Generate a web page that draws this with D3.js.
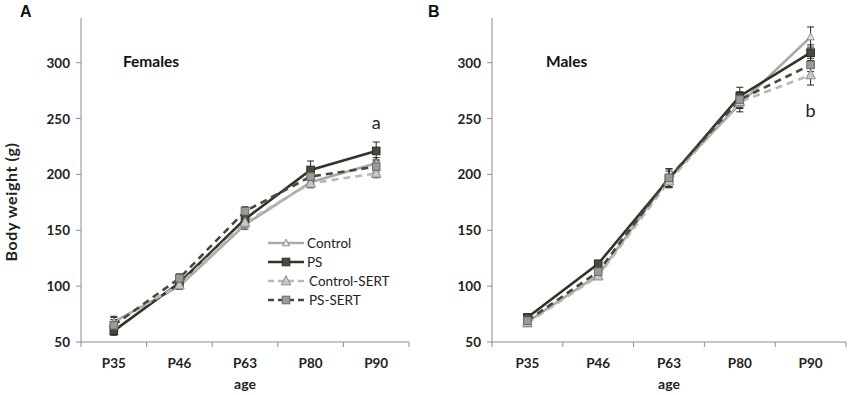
<!DOCTYPE html>
<html><head><meta charset="utf-8">
<script src="https://cdn.jsdelivr.net/npm/d3@7"></script>
<style>body{margin:0;background:#fff;} svg{display:block;font-family:Lato,"Open Sans",sans-serif;}</style>
</head><body>
<svg id="c" width="850" height="395"></svg>
<script>
const categories = ["P35","P46","P63","P80","P90"];
const yTicks = [50,100,150,200,250,300];
const seriesNames = ["Control","PS","Control-SERT","PS-SERT"];
// Females
const femControl     = [68, 100, 155, 193, 210];
const femPS          = [60, 103, 160, 204, 221];
const femControlSERT = [67, 101, 157, 192, 201];
const femPSSERT      = [65, 107, 167, 198, 207];
const femErr = [
  [5, 3, 4, 4, 5],
  [4, 4, 5, 8, 8],
  [5, 3, 4, 4, 4],
  [5, 4, 4, 5, 5]
];
// Males
const maleControl     = [68, 110, 197, 263, 323];
const malePS          = [72, 120, 196, 270, 309];
const maleControlSERT = [67, 109, 194, 265, 289];
const malePSSERT      = [69, 113, 197, 267, 298];
const maleErr = [
  [4, 3, 8, 7, 9],
  [3, 3, 7, 8, 7],
  [3, 3, 6, 6, 9],
  [4, 3, 8, 7, 6]
];
const styles = [
  {stroke:"#a9a9a9", dash:null,  w:2.6, marker:"tri", mfill:"#e8e8e8", mstroke:"#8a8a8a", ms:3.5},
  {stroke:"#33332a", dash:null,  w:2.6, marker:"sq",  mfill:"#4a4a3c", mstroke:"#2a2a22", ms:3.8},
  {stroke:"#b8b8b8", dash:"7,5", w:2.6, marker:"tri", mfill:"#c8c8c8", mstroke:"#8a8a8a", ms:4.8},
  {stroke:"#47473a", dash:"7,5", w:2.6, marker:"sq",  mfill:"#9a9a9a", mstroke:"#6a6a5e", ms:3.8}
];

const svg = d3.select("#c");
const axisCol = "#8c8c8c";

function marker(g, type, x, y, st) {
  if (type === "sq") {
    g.append("rect").attr("x", x - st.ms).attr("y", y - st.ms).attr("width", st.ms*2).attr("height", st.ms*2)
      .attr("fill", st.mfill).attr("stroke", st.mstroke).attr("stroke-width", 1);
  } else {
    const s = st.ms;
    g.append("path").attr("d", `M${x},${y - s*1.1}L${x + s},${y + s*0.8}L${x - s},${y + s*0.8}Z`)
      .attr("fill", st.mfill).attr("stroke", st.mstroke).attr("stroke-width", 1);
  }
}

function panel(opts) {
  const g = svg.append("g");
  const x = d3.scaleBand().domain(categories).range([opts.x0, opts.x1]).padding(0);
  const y = d3.scaleLinear().domain([50, 340]).range([342, 18]);
  // y axis
  g.append("line").attr("x1", opts.x0).attr("x2", opts.x0).attr("y1", y(340)).attr("y2", y(50)).attr("stroke", axisCol);
  yTicks.forEach(t => {
    g.append("line").attr("x1", opts.x0 - 5).attr("x2", opts.x0).attr("y1", y(t)).attr("y2", y(t)).attr("stroke", axisCol);
    g.append("text").attr("x", opts.x0 - 11).attr("y", y(t) + 5).attr("text-anchor", "end")
      .attr("font-size", 13.5).attr("font-weight", 700).attr("fill", "#222").text(t);
  });
  // x axis
  g.append("line").attr("x1", opts.x0).attr("x2", opts.x1).attr("y1", y(50)).attr("y2", y(50)).attr("stroke", axisCol);
  const bounds = categories.map(c => x(c)).concat([opts.x1]);
  bounds.forEach(b => g.append("line").attr("x1", b).attr("x2", b).attr("y1", y(50)).attr("y2", y(50) + 5).attr("stroke", axisCol));
  categories.forEach(c => g.append("text").attr("x", x(c) + x.bandwidth()/2).attr("y", 368)
    .attr("text-anchor", "middle").attr("font-size", 13.5).attr("font-weight", 700).attr("fill", "#222").text(c));
  g.append("text").attr("x", (opts.x0 + opts.x1)/2).attr("y", 389).attr("text-anchor", "middle")
    .attr("font-size", 14).attr("font-weight", 700).attr("fill", "#222").text("age");
  // panel label and title
  g.append("text").attr("x", opts.labelX).attr("y", 17).attr("font-size", 16).attr("font-weight", 700)
    .attr("font-family", "Liberation Sans, Arial, sans-serif").attr("fill", "#111").text(opts.label);
  g.append("text").attr("x", opts.titleX).attr("y", 67).attr("font-size", 15.5).attr("font-weight", 700)
    .attr("fill", "#111").text(opts.title);
  const cx = c => x(c) + x.bandwidth()/2;
  const line = d3.line().x((d, i) => cx(categories[i])).y(d => y(d));
  // lines
  opts.series.forEach((s, k) => {
    const st = styles[k];
    g.append("path").attr("d", line(s)).attr("fill", "none").attr("stroke", st.stroke)
      .attr("stroke-width", st.w).attr("stroke-dasharray", st.dash);
  });
  // error bars
  opts.series.forEach((s, k) => {
    s.forEach((v, i) => {
      const e = opts.err[k][i], xx = cx(categories[i]);
      const eb = g.append("g").attr("stroke", "#222").attr("stroke-width", 1);
      eb.append("line").attr("x1", xx).attr("x2", xx).attr("y1", y(v + e)).attr("y2", y(v - e));
      eb.append("line").attr("x1", xx - 3.5).attr("x2", xx + 3.5).attr("y1", y(v + e)).attr("y2", y(v + e));
      eb.append("line").attr("x1", xx - 3.5).attr("x2", xx + 3.5).attr("y1", y(v - e)).attr("y2", y(v - e));
    });
  });
  // markers
  opts.series.forEach((s, k) => {
    s.forEach((v, i) => marker(g, styles[k].marker, cx(categories[i]), y(v), styles[k]));
  });
  // annotation
  g.append("text").attr("x", cx("P90")).attr("y", opts.annY).attr("text-anchor", "middle")
    .attr("font-size", 18).attr("fill", "#222").text(opts.ann);
  return {x, y};
}

panel({x0: 81, x1: 409, label: "A", labelX: 20, title: "Females", titleX: 123,
  series: [femControl, femPS, femControlSERT, femPSSERT], err: femErr, ann: "a", annY: 129});
panel({x0: 492, x1: 846, label: "B", labelX: 428, title: "Males", titleX: 546,
  series: [maleControl, malePS, maleControlSERT, malePSSERT], err: maleErr, ann: "b", annY: 117});

// y axis title
svg.append("text").attr("transform", "translate(17,202) rotate(-90)").attr("text-anchor", "middle")
  .attr("font-size", 16).attr("font-weight", 700).attr("letter-spacing", 0.6).attr("fill", "#222").text("Body weight  (g)");

// legend
const lg = svg.append("g");
seriesNames.forEach((n, k) => {
  const st = styles[k];
  const yy = 243 + k * 19;
  lg.append("line").attr("x1", 268).attr("x2", 304).attr("y1", yy).attr("y2", yy)
    .attr("stroke", st.stroke).attr("stroke-width", st.w).attr("stroke-dasharray", st.dash ? "6,4" : null);
  marker(lg, st.marker, 286, yy, st);
  lg.append("text").attr("x", k === 0 || k === 1 ? 307 : 309).attr("y", yy + 5).attr("font-size", 13.5)
    .attr("fill", "#222").text(n);
});
</script>
</body></html>
